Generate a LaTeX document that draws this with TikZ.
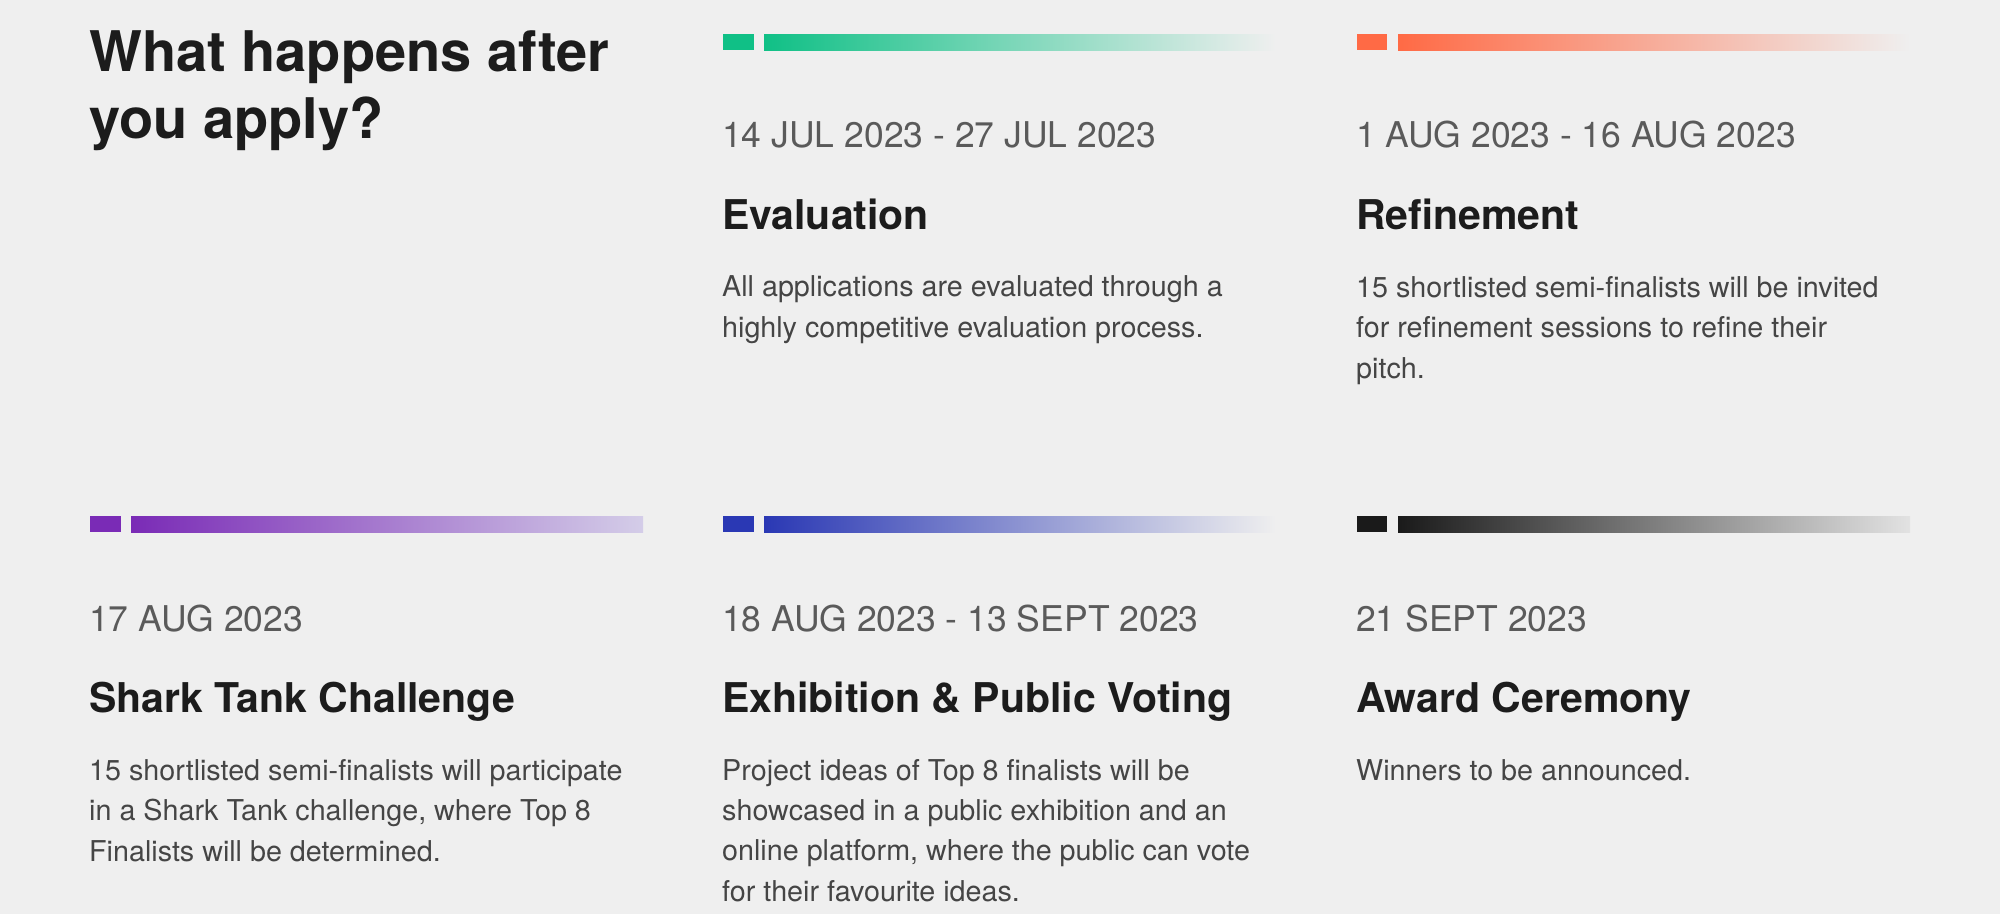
\documentclass[tikz,border=0pt]{standalone}
\usepackage{fontspec}
\setmainfont{TeX Gyre Heros}
\usetikzlibrary{positioning}

\definecolor{paper}{HTML}{EFEFEF}
\definecolor{inkdark}{HTML}{1C1C1C}
\definecolor{inkdate}{HTML}{5A5A5A}
\definecolor{inkbody}{HTML}{454545}
\definecolor{evalgreen}{HTML}{10C086}
\definecolor{refineorange}{HTML}{FF6A45}
\definecolor{sharkpurple}{HTML}{7A2BB6}
\definecolor{sharkfade}{HTML}{D4CDE8}
\definecolor{votingblue}{HTML}{2A38B4}
\definecolor{awardblack}{HTML}{1A1A1A}

\tikzset{
  datetext/.style={anchor=base west, inner sep=0pt, text=inkdate,
    font=\fontsize{35.5}{40}\selectfont},
  headtext/.style={anchor=base west, inner sep=0pt, text=inkdark,
    font=\fontsize{41}{46}\selectfont\bfseries},
  bodytext/.style={anchor=base west, inner sep=0pt, text=inkbody,
    align=left, font=\fontsize{28.7}{40.3}\selectfont},
}

\begin{document}
\begin{tikzpicture}[x=1pt, y=-1pt]

  % --- Background ---
  \fill[paper] (0,0) rectangle (2000,914);
  \useasboundingbox (0,0) rectangle (2000,914);

  % --- Title (anchored at its last line) ---
  \node[anchor=base west, inner sep=0pt, align=left, text=inkdark,
    font=\fontsize{56}{67}\selectfont\bfseries]
    (title) at (89,138) {What happens after\\you apply?};

  % --- Bars, top row ---
  \fill[evalgreen] (723,34) rectangle (754,50);
  \shade[left color=evalgreen, right color=paper] (764,34) rectangle (1276,50);
  \fill[refineorange] (1357,34) rectangle (1387,50);
  \shade[left color=refineorange, right color=paper] (1398,34) rectangle (1910,50);

  % --- Bars, bottom row ---
  \fill[sharkpurple] (90,516) rectangle (121,532);
  \shade[left color=sharkpurple, right color=sharkfade]
    (131,516) rectangle (643,532);
  \fill[votingblue] (723,516) rectangle (754,532);
  \shade[left color=votingblue, right color=paper] (764,516) rectangle (1276,532);
  \fill[awardblack] (1357,516) rectangle (1387,532);
  \shade[left color=awardblack, right color=awardblack!6!paper]
    (1398,516) rectangle (1910,532);

  % Evaluation
  \node[datetext] (evaldate) at (722,147) {14 JUL 2023 - 27 JUL 2023};
  \node[headtext] (evalhead) at (722,229) {Evaluation};
  \node[bodytext] (evalbody) at (722,337)
    {All applications are evaluated through a\\highly competitive evaluation process.};

  % Refinement
  \node[datetext] (refinedate) at (1356,147) {1 AUG 2023 - 16 AUG 2023};
  \node[headtext] (refinehead) at (1356,229) {Refinement};
  \node[bodytext] (refinebody) at (1356,378)
    {15 shortlisted semi-finalists will be invited\\for refinement sessions to refine their\\pitch.};

  % Shark Tank Challenge
  \node[datetext] (sharkdate) at (89,631) {17 AUG 2023};
  \node[headtext] (sharkhead) at (89,712) {Shark Tank Challenge};
  \node[bodytext] (sharkbody) at (89,861)
    {15 shortlisted semi-finalists will participate\\in a Shark Tank challenge, where Top 8\\Finalists will be determined.};

  % Exhibition & Public Voting
  \node[datetext] (votingdate) at (722,631) {18 AUG 2023 - 13 SEPT 2023};
  \node[headtext] (votinghead) at (722,712) {Exhibition \& Public Voting};
  \node[bodytext] (votingbody) at (722,901)
    {Project ideas of Top 8 finalists will be\\showcased in a public exhibition and an\\online platform, where the public can vote\\for their favourite ideas.};

  % Award Ceremony
  \node[datetext] (awarddate) at (1356,631) {21 SEPT 2023};
  \node[headtext] (awardhead) at (1356,712) {Award Ceremony};
  \node[bodytext] (awardbody) at (1356,780) {Winners to be announced.};

\end{tikzpicture}
\end{document}
